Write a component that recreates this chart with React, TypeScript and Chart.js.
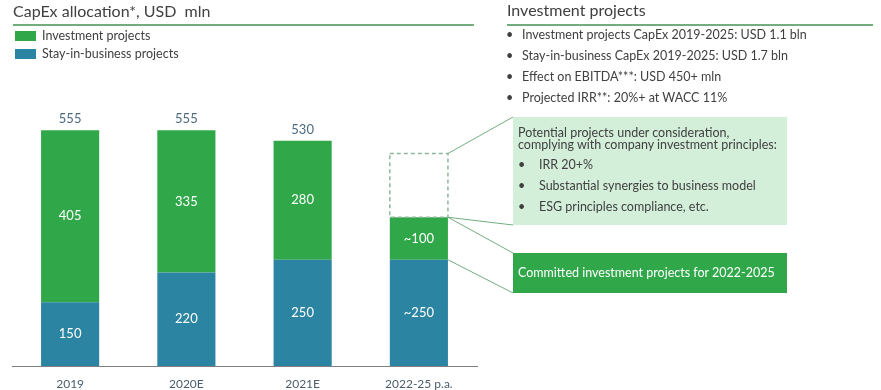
import React, { useEffect, useRef } from "react";
import { Chart, registerables } from "chart.js";

Chart.register(...registerables);

// ---- data ----
const categories = ["2019", "2020E", "2021E", "2022-25 p.a."];
const stayInBusiness = [150, 220, 250, 250];
const investment = [405, 335, 280, 100];
const potential = [null, null, null, 150];
const stayLabels = ["150", "220", "250", "~250"];
const investLabels = ["405", "335", "280", "~100"];
const totalLabels = ["555", "555", "530", ""];

const leftTitle = "CapEx allocation*, USD  mln";
const rightTitle = "Investment projects";
const legendItems = ["Investment projects", "Stay-in-business projects"];
const rightBullets = [
  "Investment projects CapEx 2019-2025: USD 1.1 bln",
  "Stay-in-business CapEx 2019-2025: USD 1.7 bln",
  "Effect on EBITDA***: USD 450+ mln",
  "Projected IRR**: 20%+ at WACC 11%",
];
const potentialHeader = [
  "Potential projects under consideration,",
  "complying with company investment principles:",
];
const potentialBullets = [
  "IRR 20+%",
  "Substantial synergies to business model",
  "ESG principles compliance, etc.",
];
const committedText = "Committed investment projects for 2022-2025";

// ---- styles ----
const FONT = "Lato, 'Open Sans', sans-serif";
const GREEN = "#30a84a";
const BLUE = "#2b84a2";
const LIGHT = "#d3efd9";
const LINE_GREEN = "#72ad7e";
const TEXT = "#404040";
const AXIS_TEXT = "#4a5d6c";
const BODY = 12.5;

const LIGHT_BOX = { left: 513, top: 117, width: 274, height: 108 };
const COMMIT_BOX = { left: 513, top: 253, width: 274, height: 40 };

const overlayPlugin = {
  id: "overlay",
  afterDatasetsDraw(chart: any) {
    const ctx = chart.ctx;
    const blue = chart.getDatasetMeta(0).data;
    const green = chart.getDatasetMeta(1).data;
    const pot = chart.getDatasetMeta(2).data;
    ctx.save();
    ctx.textAlign = "center";
    ctx.textBaseline = "middle";
    ctx.font = `13px ${FONT}`;
    ctx.fillStyle = "#ffffff";
    blue.forEach((el: any, i: number) => {
      ctx.fillText(stayLabels[i], el.x, (el.y + el.base) / 2);
    });
    green.forEach((el: any, i: number) => {
      ctx.fillText(investLabels[i], el.x, (el.y + el.base) / 2);
    });
    ctx.fillStyle = "#4b6a80";
    green.forEach((el: any, i: number) => {
      if (totalLabels[i]) ctx.fillText(totalLabels[i], el.x, el.y - 11);
    });

    // dashed box for potential projects
    const p = pot[3];
    if (p) {
      const l = p.x - p.width / 2;
      const r = p.x + p.width / 2;
      ctx.setLineDash([4, 3]);
      ctx.strokeStyle = "#8db79a";
      ctx.lineWidth = 1.5;
      ctx.strokeRect(l, p.y, r - l, p.base - p.y);
      ctx.setLineDash([]);
      // connectors
      ctx.strokeStyle = LINE_GREEN;
      ctx.lineWidth = 1;
      const g = green[3];
      const b = blue[3];
      const segs = [
        [r, p.y, LIGHT_BOX.left, LIGHT_BOX.top],
        [r, p.base, LIGHT_BOX.left, LIGHT_BOX.top + LIGHT_BOX.height],
        [r, g.y, COMMIT_BOX.left, COMMIT_BOX.top],
        [r, b.y, COMMIT_BOX.left, COMMIT_BOX.top + COMMIT_BOX.height],
      ];
      segs.forEach(([x1, y1, x2, y2]) => {
        ctx.beginPath();
        ctx.moveTo(x1, y1);
        ctx.lineTo(x2, y2);
        ctx.stroke();
      });
    }
    ctx.restore();
  },
};

export default function App() {
  const ref = useRef<HTMLCanvasElement>(null);
  useEffect(() => {
    document.body.style.margin = "0";
    if (!ref.current) return;
    const chart = new Chart(ref.current, {
      type: "bar",
      data: {
        labels: categories,
        datasets: [
          { label: legendItems[1], data: stayInBusiness, backgroundColor: BLUE, stack: "s" },
          { label: legendItems[0], data: investment, backgroundColor: GREEN, stack: "s" },
          { label: "Potential", data: potential as any, backgroundColor: "rgba(0,0,0,0)", stack: "s" },
        ],
      },
      options: {
        responsive: false,
        animation: false,
        layout: { padding: { left: 12, right: 404, top: 111, bottom: 0 } },
        datasets: { bar: { barPercentage: 0.5, categoryPercentage: 1 } },
        plugins: { legend: { display: false }, tooltip: { enabled: false } },
        scales: {
          x: {
            stacked: true,
            grid: { display: false, drawTicks: false },
            border: { display: true, color: "#808080", width: 1 },
            ticks: { color: AXIS_TEXT, font: { family: FONT, size: 12 }, padding: 11 },
            afterFit: (s: any) => {
              s.height = 24;
            },
          },
          y: { stacked: true, display: false, min: 0, max: 600 },
        },
      } as any,
      plugins: [overlayPlugin],
    });
    return () => chart.destroy();
  }, []);

  const abs = (o: any) => ({ position: "absolute" as const, ...o });

  return (
    <div style={{ position: "relative", width: 881, height: 390, fontFamily: FONT, color: TEXT, overflow: "hidden" }}>
      <canvas ref={ref} width={881} height={390} style={abs({ left: 0, top: 0 })} />
      <div style={abs({ left: 13, top: 1, fontSize: 16, lineHeight: "20px", whiteSpace: "pre" })}>{leftTitle}</div>
      <div style={abs({ left: 13, top: 24, width: 461, height: 2, background: LINE_GREEN })} />
      <div style={abs({ left: 507, top: 0, fontSize: 16, lineHeight: "20px", whiteSpace: "pre" })}>{rightTitle}</div>
      <div style={abs({ left: 507, top: 24, width: 366, height: 2, background: LINE_GREEN })} />

      <div style={abs({ left: 15, top: 31, width: 21, height: 10, background: GREEN })} />
      <div style={abs({ left: 42, top: 27, fontSize: BODY, lineHeight: "18px", whiteSpace: "nowrap" })}>{legendItems[0]}</div>
      <div style={abs({ left: 15, top: 49, width: 21, height: 10, background: BLUE })} />
      <div style={abs({ left: 42, top: 45, fontSize: BODY, lineHeight: "18px", whiteSpace: "nowrap" })}>{legendItems[1]}</div>

      {rightBullets.map((t, i) => (
        <React.Fragment key={t}>
          <div style={abs({ left: 506, top: 26 + i * 21, fontSize: BODY, lineHeight: "18px" })}>•</div>
          <div style={abs({ left: 522, top: 26 + i * 21, fontSize: BODY, lineHeight: "18px", whiteSpace: "nowrap" })}>{t}</div>
        </React.Fragment>
      ))}

      <div style={abs({ ...LIGHT_BOX, background: LIGHT })} />
      {potentialHeader.map((t, i) => (
        <div key={t} style={abs({ left: 518, top: 125 + i * 12, fontSize: BODY, lineHeight: "15px", whiteSpace: "nowrap" })}>{t}</div>
      ))}
      {potentialBullets.map((t, i) => (
        <React.Fragment key={t}>
          <div style={abs({ left: 518, top: 157 + i * 21, fontSize: BODY, lineHeight: "16px" })}>•</div>
          <div style={abs({ left: 539, top: 157 + i * 21, fontSize: BODY, lineHeight: "16px", whiteSpace: "nowrap" })}>{t}</div>
        </React.Fragment>
      ))}

      <div style={abs({ ...COMMIT_BOX, background: GREEN })} />
      <div style={abs({ left: 518, top: 264, fontSize: BODY, lineHeight: "18px", color: "#ffffff", whiteSpace: "nowrap" })}>{committedText}</div>
    </div>
  );
}
